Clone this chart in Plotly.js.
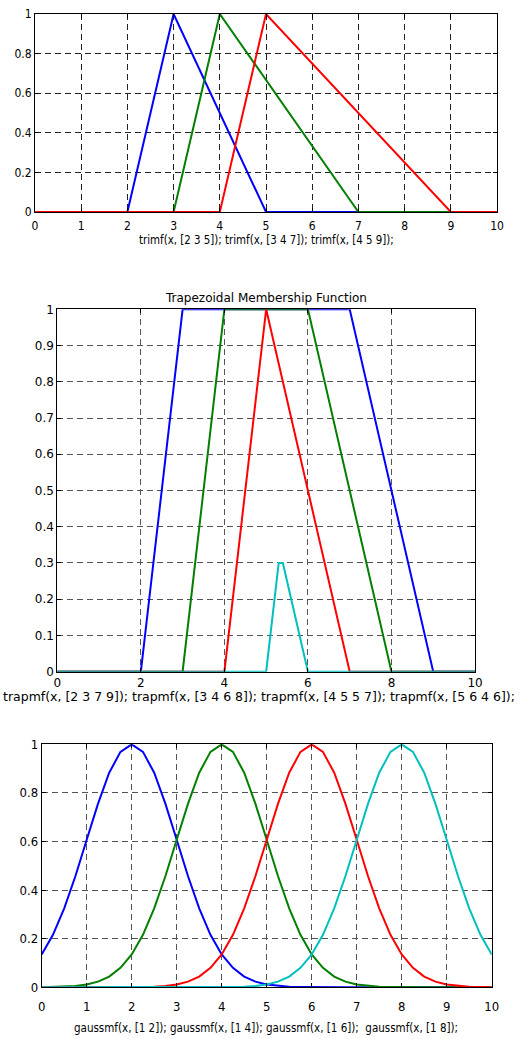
<!DOCTYPE html>
<html><head><meta charset="utf-8">
<script src="https://cdn.plot.ly/plotly-3.0.1.min.js"></script>
<style>html,body{margin:0;padding:0;background:#fff}#chart{width:520px;height:1039px}</style>
</head><body><div id="chart"></div>
<script>
// ---- Plot 1: triangular MFs ----
const triBlueX = [0, 2, 3, 5, 10];
const triBlueY = [0, 0, 1, 0, 0];
const triGreenX = [0, 3, 4, 7, 10];
const triGreenY = [0, 0, 1, 0, 0];
const triRedX = [0, 4, 5, 9, 10];
const triRedY = [0, 0, 1, 0, 0];
const triLabel = "trimf(x, [2 3 5]); trimf(x, [3 4 7]); trimf(x, [4 5 9]);";

// ---- Plot 2: trapezoidal MFs ----
const trapBlueX = [0, 2, 3, 7, 9, 10];
const trapBlueY = [0, 0, 1, 1, 0, 0];
const trapGreenX = [0, 3, 4, 6, 8, 10];
const trapGreenY = [0, 0, 1, 1, 0, 0];
const trapRedX = [0, 4, 5, 7, 10];
const trapRedY = [0, 0, 1, 0, 0];
const trapCyanX = [0, 5, 5.3, 5.4, 6, 10];
const trapCyanY = [0, 0, 0.3, 0.3, 0, 0];
const trapTitle = "Trapezoidal Membership Function";
const trapLabel = "trapmf(x, [2 3 7 9]); trapmf(x, [3 4 6 8]); trapmf(x, [4 5 5 7]); trapmf(x, [5 6 4 6]);";

// ---- Plot 3: gaussian MFs ----
const gaussX = [0,0.25,0.5,0.75,1,1.25,1.5,1.75,2,2.25,2.5,2.75,3,3.25,3.5,3.75,4,4.25,4.5,4.75,5,5.25,5.5,5.75,6,6.25,6.5,6.75,7,7.25,7.5,7.75,8,8.25,8.5,8.75,9,9.25,9.5,9.75,10];
const gaussBlueY = [0.135,0.216,0.325,0.458,0.607,0.755,0.883,0.969,1,0.969,0.883,0.755,0.607,0.458,0.325,0.216,0.135,0.080,0.044,0.023,0.011,0.005,0.002,0.001,0,0,0,0,0,0,0,0,0,0,0,0,0,0,0,0,0];
const gaussGreenY = [0,0.001,0.002,0.005,0.011,0.023,0.044,0.080,0.135,0.216,0.325,0.458,0.607,0.755,0.883,0.969,1,0.969,0.883,0.755,0.607,0.458,0.325,0.216,0.135,0.080,0.044,0.023,0.011,0.005,0.002,0.001,0,0,0,0,0,0,0,0,0];
const gaussRedY = [0,0,0,0,0,0,0,0,0,0.001,0.002,0.005,0.011,0.023,0.044,0.080,0.135,0.216,0.325,0.458,0.607,0.755,0.883,0.969,1,0.969,0.883,0.755,0.607,0.458,0.325,0.216,0.135,0.080,0.044,0.023,0.011,0.005,0.002,0.001,0];
const gaussCyanY = [0,0,0,0,0,0,0,0,0,0,0,0,0,0,0,0,0,0.001,0.002,0.005,0.011,0.023,0.044,0.080,0.135,0.216,0.325,0.458,0.607,0.755,0.883,0.969,1,0.969,0.883,0.755,0.607,0.458,0.325,0.216,0.135];
const gaussLabel = "gaussmf(x, [1 2]); gaussmf(x, [1 4]); gaussmf(x, [1 6]);\u00a0 gaussmf(x, [1 8]);";

const BLUE = '#0000ff', GREEN = '#007f00', RED = '#ff0000', CYAN = '#00bfbf';
const narrow = '"DejaVu Sans Condensed", "DejaVu Sans", sans-serif';
const wide = '"DejaVu Sans", sans-serif';

function tr(x, y, c, xa, ya) {
  return {x: x, y: y, xaxis: xa, yaxis: ya, type: 'scatter', mode: 'lines',
          line: {color: c, width: 2}, hoverinfo: 'skip', showlegend: false};
}
const data = [
  tr(triBlueX, triBlueY, BLUE, 'x', 'y'),
  tr(triGreenX, triGreenY, GREEN, 'x', 'y'),
  tr(triRedX, triRedY, RED, 'x', 'y'),
  tr(trapBlueX, trapBlueY, BLUE, 'x2', 'y2'),
  tr(trapGreenX, trapGreenY, GREEN, 'x2', 'y2'),
  tr(trapRedX, trapRedY, RED, 'x2', 'y2'),
  tr(trapCyanX, trapCyanY, CYAN, 'x2', 'y2'),
  tr(gaussX, gaussBlueY, BLUE, 'x3', 'y3'),
  tr(gaussX, gaussGreenY, GREEN, 'x3', 'y3'),
  tr(gaussX, gaussRedY, RED, 'x3', 'y3'),
  tr(gaussX, gaussCyanY, CYAN, 'x3', 'y3')
];

function ax(domain, anchor, range, dtick, font, size, gridc, standoff) {
  return {domain: domain, anchor: anchor, range: range, tickmode: 'linear', tick0: 0, dtick: dtick,
          showline: true, linecolor: '#000', linewidth: 1, mirror: 'ticks',
          ticks: 'inside', ticklen: 4, tickcolor: '#000', ticklabelstandoff: standoff,
          showgrid: true, gridcolor: gridc, gridwidth: 1, griddash: '6px,4px',
          zeroline: false, tickfont: {family: font, size: size, color: '#000'}, fixedrange: true};
}

const layout = {
  width: 520, height: 1039, margin: {l: 0, r: 0, t: 0, b: 0},
  paper_bgcolor: '#fff', plot_bgcolor: '#fff', showlegend: false,
  xaxis: ax([0.0673, 0.9558], 'y', [0, 10], 1, narrow, 12, '#222', 3),
  yaxis: ax([0.7960, 0.9865], 'x', [0, 1], 0.2, narrow, 12, '#222', 0),
  xaxis2: ax([0.1102, 0.9135], 'y2', [0, 10], 2, wide, 12, '#555', 0),
  yaxis2: ax([0.3535, 0.7023], 'x2', [0, 1], 0.1, wide, 12, '#555', 0),
  xaxis3: ax([0.0802, 0.9456], 'y3', [0, 10], 1, narrow, 13, '#555', 7),
  yaxis3: ax([0.0498, 0.2836], 'x3', [0, 1], 0.2, narrow, 13, '#555', 0),
  annotations: [
    {text: triLabel, xref: 'paper', yref: 'paper', x: 266/520, y: 1 - 240/1039, showarrow: false,
     xanchor: 'center', yanchor: 'middle', font: {family: narrow, size: 11.4, color: '#000'}},
    {text: trapTitle, xref: 'paper', yref: 'paper', x: 266/520, y: 1 - 298/1039, showarrow: false,
     xanchor: 'center', yanchor: 'middle', font: {family: wide, size: 12, color: '#000'}},
    {text: trapLabel, xref: 'paper', yref: 'paper', x: 259/520, y: 1 - 696/1039, showarrow: false,
     xanchor: 'center', yanchor: 'middle', font: {family: wide, size: 12.5, color: '#000'}},
    {text: gaussLabel, xref: 'paper', yref: 'paper', x: 266/520, y: 1 - 1028/1039, showarrow: false,
     xanchor: 'center', yanchor: 'middle', font: {family: narrow, size: 11.5, color: '#000'}}
  ]
};
Plotly.newPlot('chart', data, layout, {staticPlot: true, displayModeBar: false});
</script></body></html>
